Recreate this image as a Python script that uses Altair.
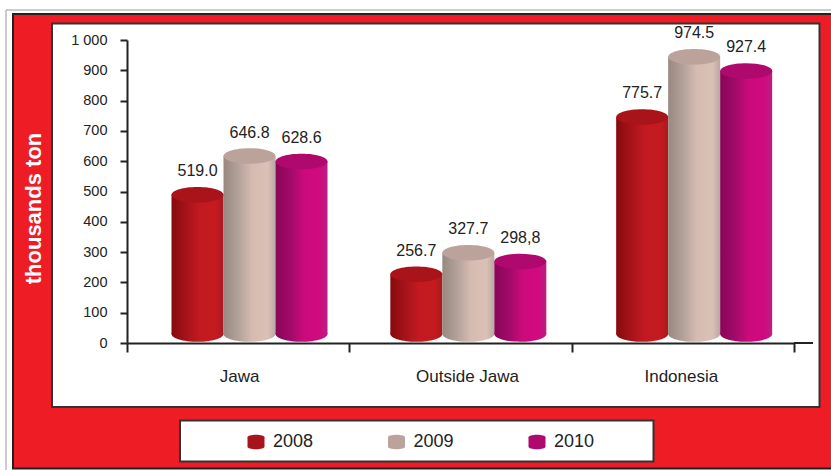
import altair as alt
import pandas as pd

regions = ["Jawa", "Outside Jawa", "Indonesia"]
years = ["2008", "2009", "2010"]
values = {
    "2008": [519.0, 256.7, 775.7],
    "2009": [646.8, 327.7, 974.5],
    "2010": [628.6, 298.8, 927.4],
}
value_labels = {
    "2008": ["519.0", "256.7", "775.7"],
    "2009": ["646.8", "327.7", "974.5"],
    "2010": ["628.6", "298,8", "927.4"],
}
cap_colors = ["#a9141a", "#bba39c", "#b0096e"]
body_stops = {
    "2008": ["#860a0d", "#a5131a", "#c21a20", "#c41b21", "#a81a20"],
    "2009": ["#98887f", "#b2a199", "#d6bbb1", "#dbc0b6", "#b8a8a2"],
    "2010": ["#8a0558", "#a00a68", "#cc0a7c", "#d00a80", "#b82080"],
}
stop_offsets = [0, 0.28, 0.55, 0.85, 1]

FONT = "Liberation Sans, Arial"
INK = "#222222"
RED = "#ee1c25"
LEFT, TOP, WIDTH, HEIGHT = 127, 40, 667, 303
ELLIPSE = "M-1,0 A1,0.3 0 1 1 1,0 A1,0.3 0 1 1 -1,0 Z"
CYLINDER = "M-1,-0.55 A1,0.3 0 0 1 1,-0.55 V0.55 A1,0.3 0 0 1 -1,0.55 Z"

rows = [
    {"region": r, "year": y, "value": values[y][i], "label": value_labels[y][i]}
    for y in years
    for i, r in enumerate(regions)
]
df = pd.DataFrame(rows)

# Each cylinder sits one body width from its neighbour, measured from the
# start of its region's band.
SLOT_EXPR = (
    "(indexof(['2008','2009','2010'], datum.year) - 1) * 52"
    " + (datum.region === 'Outside Jawa' ? 119 : 122.5)"
)


def gradient(year):
    return {
        "gradient": "linear",
        "x1": 0, "x2": 1, "y1": 0, "y2": 0,
        "stops": [
            {"offset": o, "color": c}
            for o, c in zip(stop_offsets, body_stops[year])
        ],
    }


def frame(x0, y0, x1, y1, **style):
    """A decorative panel given in page coordinates."""
    return alt.Chart(pd.DataFrame({"k": [0]})).mark_rect(**style).encode(
        x=alt.value(x0 - LEFT), x2=alt.value(x1 - LEFT),
        y=alt.value(y0 - TOP), y2=alt.value(y1 - TOP),
    )


backdrop = [
    frame(6, 10, 840, 480, fill="white", stroke="#999999", strokeWidth=1),
    frame(13, 14, 840, 468.5, fill=RED, stroke=INK, strokeWidth=2),
    frame(52, 23.5, 819.5, 407, fill="white", stroke="#333333", strokeWidth=2),
    frame(180, 420.5, 653.5, 461.5, fill="white", stroke="#333333", strokeWidth=2),
]

x_enc = alt.X(
    "region:N",
    sort=regions,
    scale=alt.Scale(domain=regions, paddingInner=0, paddingOuter=0),
    axis=alt.Axis(
        title=None, labelAngle=0, labelFont=FONT, labelFontSize=17, labelColor=INK,
        labelPadding=16, tickBand="extent", tickSize=9, tickWidth=2, tickColor=INK,
        domainColor=INK, domainWidth=2, grid=False, zindex=1,
        labelOffset={
            "condition": [
                {"test": "datum.value === 'Outside Jawa'", "value": 6.5},
                {"test": "datum.value === 'Indonesia'", "value": -2},
            ],
            "value": 1,
        },
    ),
)
offset_enc = alt.XOffset("slot:Q", scale=None)
y_enc = alt.Y(
    "value:Q",
    stack=None,
    scale=alt.Scale(domain=[0, 1000], nice=False),
    axis=alt.Axis(
        title="thousands ton", titleColor="white", titleFont="Liberation Sans",
        titleFontSize=22, titleFontWeight="bold", titleAngle=270,
        titleX=-82, titleY=168,
        values=list(range(0, 1001, 100)), labelFont=FONT, labelFontSize=14.5,
        labelColor=INK, labelPadding=13, tickSize=7, tickWidth=2, tickColor=INK,
        domainColor=INK, domainWidth=2, grid=False, zindex=1,
        labelExpr="datum.value === 1000 ? '1 000' : datum.label",
    ),
)

layers = list(backdrop)

for year in years:
    part = df[df.year == year]
    base = alt.Chart(part).transform_calculate(slot=SLOT_EXPR).encode(x=x_enc, xOffset=offset_enc)
    layers.append(
        base.mark_point(
            shape=ELLIPSE, filled=True, size=2704, opacity=1,
            color=gradient(year), yOffset=-9,
        ).encode(y=alt.value(HEIGHT))
    )
    layers.append(
        base.mark_bar(
            color=gradient(year), size=52, yOffset=9, y2Offset=-9,
        ).encode(y=y_enc, y2=alt.datum(0))
    )

cap_color = alt.Color(
    "year:N",
    sort=years,
    scale=alt.Scale(domain=years, range=cap_colors),
    legend=alt.Legend(
        title=None, orient="none", direction="horizontal", columns=3,
        legendX=248 - LEFT - 1, legendY=433 - TOP, padding=0,
        symbolType=CYLINDER, symbolSize=289, symbolStrokeWidth=0,
        labelFont=FONT, labelFontSize=18, labelColor=INK, labelOffset=8,
        columnPadding=73.5, gridAlign="each",
    ),
)
all_bars = (
    alt.Chart(df)
    .transform_calculate(slot=SLOT_EXPR)
    .encode(x=x_enc, xOffset=offset_enc, y=y_enc)
)
layers.append(
    all_bars.mark_point(
        shape=ELLIPSE, filled=True, size=2704, opacity=1, yOffset=9,
    ).encode(color=cap_color)
)
layers.append(
    all_bars.mark_text(font=FONT, fontSize=16, color=INK, dy=-14.5).encode(text="label:N")
)
# The horizontal axis line runs on a little past the last tick.
layers.append(
    alt.Chart(pd.DataFrame({"k": [0]})).mark_rule(color=INK, strokeWidth=2).encode(
        x=alt.value(WIDTH), x2=alt.value(686), y=alt.value(HEIGHT)
    )
)

chart = (
    alt.layer(*layers)
    .properties(
        width=WIDTH, height=HEIGHT, background="white",
        padding={"left": LEFT, "top": TOP, "right": 831 - LEFT - WIDTH, "bottom": 470 - TOP - HEIGHT},
        autosize=alt.AutoSizeParams(type="none"),
    )
    .configure_view(stroke=None)
)

chart.save("out.html", embed_options={"renderer": "svg", "actions": False})
